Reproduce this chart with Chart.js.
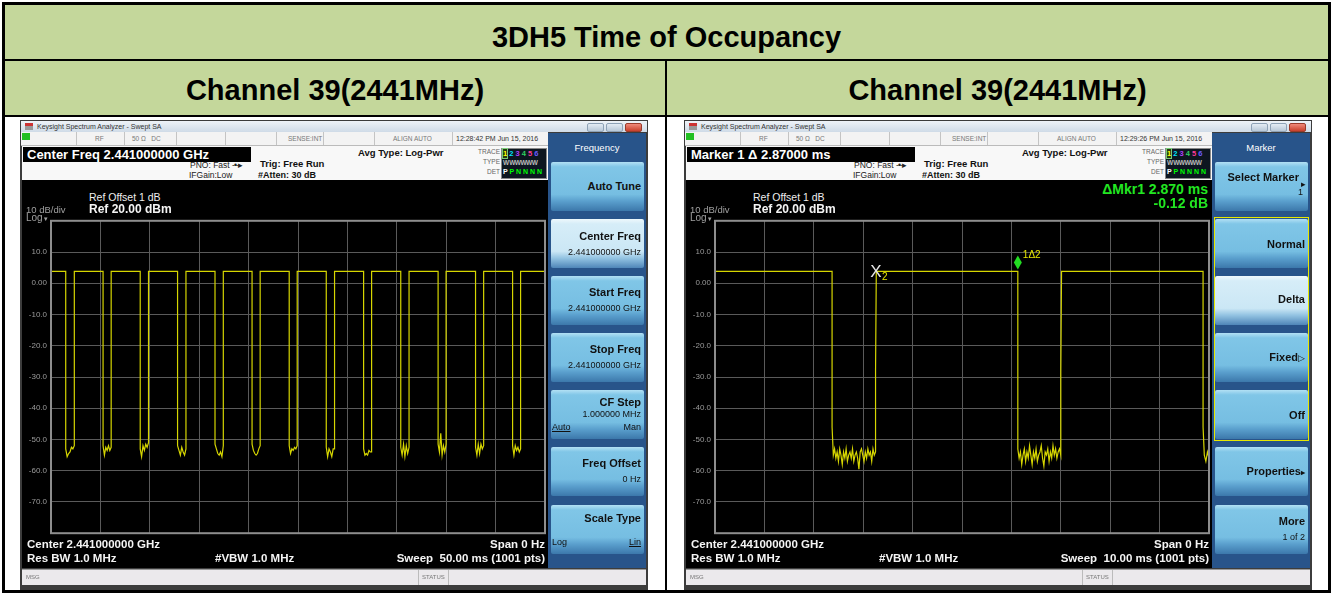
<!DOCTYPE html>
<html><head><meta charset="utf-8">
<script src="https://cdn.jsdelivr.net/npm/chart.js@4.4.0/dist/chart.umd.min.js"></script>
<style>
body{margin:0;width:1333px;height:595px;background:#fff;position:relative;overflow:hidden;font-family:"Liberation Sans",Arial,sans-serif;}
.a{position:absolute;white-space:nowrap}
.scr{position:absolute;width:628px;height:470px;top:120px;background:#3c3c3c;}
.tb{position:absolute;left:1px;top:1px;width:626px;height:11px;background:linear-gradient(#eef3f8,#cfdbe7);}
.st{position:absolute;left:1px;top:12px;width:527px;height:14px;background:#f3f3f3;border-bottom:1px solid #bbb;box-sizing:border-box}
.info{position:absolute;left:2px;top:26px;width:526px;height:34px;background:#f8f8f8;}
.screen{position:absolute;left:2px;top:60px;width:526px;height:388px;background:#000;}
.panel{position:absolute;left:528px;top:13px;width:98px;height:435px;background:#28548a;}
.msg{position:absolute;left:2px;top:449px;width:624px;height:16px;background:#ebe9ec;border-top:1px solid #999;box-sizing:border-box}
.btn{position:absolute;left:3px;width:93px;height:49px;border-radius:2px;background:linear-gradient(#b2e0f4 0%,#80c6e7 10%,#76bee2 66%,#5a9fcd 80%,#3c78ab 100%);}
.btn.sel{background:linear-gradient(#eef8fc 0%,#d6edf8 10%,#cbe7f5 66%,#93c3e2 80%,#4f86b8 100%);}
.wb{position:absolute;top:2px;width:17px;height:9px;border-radius:2px;background:linear-gradient(#e4ecf4,#b8c8d8);border:1px solid #8ea2b6;box-sizing:border-box}
.wb.cl{background:linear-gradient(#f08a7a,#c8402c);border-color:#9a3a2a}
.cell{position:absolute;top:0;width:1px;height:13px;background:#c4c4c4}
canvas{position:absolute;left:0;top:32px}
</style></head><body>
<div id="root"></div>
<script>
// ---------------- data ----------------
const titleText = "3DH5 Time of Occupancy";
const channelLabels = ["Channel 39(2441MHz)", "Channel 39(2441MHz)"];
const yTickValues = [10, 0, -10, -20, -30, -40, -50, -60, -70];
const yTickLabels = ["10.0", "0.00", "-10.0", "-20.0", "-30.0", "-40.0", "-50.0", "-60.0", "-70.0"];
const yMinDbm = -80, yMaxDbm = 20;

const leftSweepMs = 50;
const leftHighDbm = 3.8;
const leftFallMs = [1.49, 5.27, 9.03, 12.81, 16.60, 20.35, 24.11, 27.86, 31.64, 35.40, 39.18, 42.97, 46.72];
const leftRiseMs = [2.36, 6.09, 9.87, 13.66, 17.44, 21.17, 24.92, 28.70, 32.45, 36.24, 39.99, 43.79, 47.53];
const leftGapNoiseDbm = [
  [-53, -55.5, -54.5, -54, -52.5, -53, -52],
  [-52, -55, -52.5, -53.5, -52, -53.5, -52.5],
  [-53, -55.5, -52, -53.5, -51.5, -52.5, -51],
  [-52, -53.5, -55, -52.5, -54, -55, -53],
  [-51.5, -53, -54.5, -55, -54, -55.5, -52],
  [-51.5, -53.5, -54.5, -55, -54.5, -53, -52],
  [-52, -54.5, -53, -53.5, -52.5, -53, -52],
  [-52.5, -55.5, -53, -54, -55.5, -53, -53],
  [-53, -55, -54.5, -55, -53.5, -54, -54],
  [-52.5, -55, -51.5, -55.5, -52, -54.5, -52.5],
  [-51.5, -54, -48, -55, -52, -54, -51.5],
  [-52.5, -55, -51.5, -54.5, -51.5, -53, -52],
  [-52, -55, -52, -53.5, -52.5, -54, -53]
];

const rightSweepMs = 10;
const rightHighDbm = 3.8;
const rightFallMs = [2.37, 6.13, 9.88];
const rightRiseMs = [3.25, 7.00, null];
const rightFallKneeDbm = [-46, null, -46];
const rightRiseKneeDbm = [-28, -29, null];
const rightGapNoiseDbm = [
  [-55, -53, -56, -54, -57, -53, -55, -58, -54, -56, -53, -57, -55, -54, -56, -53, -57, -55, -54, -56, -59.5, -54, -53, -55, -57, -54, -56, -53, -55, -54, -57, -53, -55, -54],
  [-53, -56, -54, -58, -55, -53, -57, -54, -56, -52, -55, -58, -54, -56, -53, -57, -55, -54, -52, -56, -58.5, -54, -55, -53, -57, -54, -56, -52, -55, -53, -56, -54, -53, -55],
  [-55, -57, -54, -56]
];
const markerRefMs = 3.26;
const markerDeltaMs = 6.13;

// ---------------- layout helpers ----------------
const FONT = '"Liberation Sans", Arial, sans-serif';
function T(x, yc, txt, st) { return `<div class="a" style="left:${x}px;top:${yc-8}px;height:16px;line-height:16px;${st||''}">${txt}</div>`; }
function R(xr, yc, txt, st) { return `<div class="a" style="left:${xr-400}px;width:400px;text-align:right;top:${yc-8}px;height:16px;line-height:16px;${st||''}">${txt}</div>`; }

function screenHTML(cfg) {
  const cells = [55, 103, 155, 204, 255, 302, 353, 431].map(x => `<div class="cell" style="left:${x}px"></div>`).join('');
  const traceCols = ['#ffff00', '#00e5ff', '#b040ff', '#30d060', '#ff3a9a', '#6a5cff'];
  const nums = traceCols.map((c, i) => `<span style="color:${c};${i==0?'background:#2a3a10;outline:1px solid #7c7;':''}">${i+1}</span>`).join(' ');
  const dets = ['P','P','N','N','N','N'].map((c, i) => `<span style="color:${i==0?'#fff':'#00ff00'}">${c}</span>`).join(' ');
  let btns = '';
  const tops = [29, 86, 143, 200, 257, 314, 372];
  cfg.buttons.forEach((b, i) => {
    btns += `<div class="btn${b.sel?' sel':''}" style="top:${tops[i]}px">${b.html}</div>`;
  });
  return `
  <div class="scr" style="left:${cfg.x}px">
    <div class="tb">
      <div class="a" style="left:4px;top:2px;width:8px;height:7px;background:linear-gradient(#c33 0 40%,#999 40%)"></div>
      ${T(16, 5.5, 'Keysight Spectrum Analyzer - Swept SA', 'font-size:7px;color:#333')}
      <div class="wb" style="left:566px"></div><div class="wb" style="left:585px"></div><div class="wb cl" style="left:604px"></div>
    </div>
    <div class="st">
      <div class="a" style="left:1px;top:1px;width:8px;height:7px;background:#22c022"></div>
      ${cells}
      ${T(74, 6.5, 'RF', 'font-size:6.5px;color:#777')}
      ${T(111, 6.5, '50 Ω&nbsp;&nbsp;&nbsp;DC', 'font-size:6.5px;color:#777')}
      ${T(267, 6.5, 'SENSE:INT', 'font-size:6.5px;color:#777')}
      ${T(372, 6.5, 'ALIGN AUTO', 'font-size:6.5px;color:#777')}
      ${T(435, 6.5, cfg.time, 'font-size:7px;color:#333')}
    </div>
    <div class="info">
      <div class="a" style="left:1px;top:1px;width:228px;height:15px;background:#000"></div>
      ${T(5, 8.5, cfg.head, 'font-size:13px;font-weight:bold;color:#fff')}
      ${T(168, 18.5, 'PNO: Fast <span style="letter-spacing:-1px">-•-▸</span>', 'font-size:8.5px;color:#222')}
      ${T(167, 29, 'IFGain:Low', 'font-size:8.5px;color:#222')}
      ${T(238, 18, 'Trig: Free Run', 'font-size:9.5px;font-weight:bold;color:#111')}
      ${T(236, 28.5, '#Atten: 30 dB', 'font-size:9px;font-weight:bold;color:#111')}
      ${T(336, 7, 'Avg Type: Log-Pwr', 'font-size:9.5px;font-weight:bold;color:#111')}
      ${R(478, 6, 'TRACE', 'font-size:6.5px;color:#666')}
      ${R(478, 15.5, 'TYPE', 'font-size:6.5px;color:#666')}
      ${R(478, 25.5, 'DET', 'font-size:6.5px;color:#666')}
      <div class="a" style="left:479px;top:2px;width:46px;height:31px;background:#0d1620;border:1px solid #888;box-sizing:border-box"></div>
      ${T(481, 8, nums, 'font-size:7.5px;font-weight:bold')}
      ${T(481, 16.5, 'W<span style="letter-spacing:-0.5px">WWWWW</span>', 'font-size:6.5px;font-weight:bold;color:#bbb')}
      ${T(481, 25.5, dets, 'font-size:7px;font-weight:bold')}
    </div>
    <div class="screen">
      <canvas id="${cfg.id}" width="525" height="330"></canvas>
      ${T(67, 17, 'Ref Offset 1 dB', 'font-size:10.5px;color:#eee')}
      ${T(67, 29, 'Ref 20.00 dBm', 'font-size:12px;font-weight:bold;color:#f4f4f4')}
      ${T(4, 30, '10 dB/div', 'font-size:9.5px;color:#a0a0a0')}
      ${T(4, 38, 'Log<span style="font-size:6px">▼</span>', 'font-size:10px;color:#a0a0a0')}
      ${cfg.readout || ''}
      ${T(5, 364, 'Center 2.441000000 GHz', 'font-size:11.5px;font-weight:bold;color:#f4f4f4')}
      ${T(5, 378, 'Res BW 1.0 MHz', 'font-size:11.5px;font-weight:bold;color:#f4f4f4')}
      ${T(193, 378, '#VBW 1.0 MHz', 'font-size:11.5px;font-weight:bold;color:#f4f4f4')}
      ${R(523, 364, 'Span 0 Hz', 'font-size:11.5px;font-weight:bold;color:#f4f4f4')}
      ${R(523, 378, 'Sweep&nbsp;&nbsp;' + cfg.sweep, 'font-size:11.5px;font-weight:bold;color:#f4f4f4')}
    </div>
    <div class="panel">
      <div class="a" style="left:0;width:98px;text-align:center;top:7px;line-height:16px;font-size:9.5px;color:#fff">${cfg.menu}</div>
      ${btns}
      ${cfg.group || ''}
    </div>
    <div class="msg">
      ${T(4, 7, 'MSG', 'font-size:6px;color:#777')}
      <div class="a" style="left:396px;top:0;width:1px;height:15px;background:#bbb"></div>
      ${T(400, 7, 'STATUS', 'font-size:6px;color:#777')}
      <div class="a" style="left:426px;top:0;width:1px;height:15px;background:#bbb"></div>
    </div>
  </div>`;
}

const bt = (yc, t, extra) => R(90, yc, t, 'font-size:11px;font-weight:bold;color:#111;' + (extra||''));
const bv = (yc, t) => R(90, yc, t, 'font-size:9px;color:#111');

const leftCfg = {
  x: 20, id: 'cL', time: '12:28:42 PM Jun 15, 2016', head: 'Center Freq 2.441000000 GHz',
  menu: 'Frequency', sweep: '50.00 ms (1001 pts)',
  buttons: [
    {html: bt(24, 'Auto Tune')},
    {sel: true, html: bt(17, 'Center Freq') + bv(33, '2.441000000 GHz')},
    {html: bt(16, 'Start Freq') + bv(32, '2.441000000 GHz')},
    {html: bt(16, 'Stop Freq') + bv(32, '2.441000000 GHz')},
    {html: bt(12, 'CF Step') + bv(24, '1.000000 MHz') + bv(37, 'Man') + T(1, 37, '<u>Auto</u>', 'font-size:9px;color:#111')},
    {html: bt(16, 'Freq Offset') + bv(32, '0 Hz')},
    {html: bt(13, 'Scale Type') + bv(37, '<u>Lin</u>') + T(1, 37, 'Log', 'font-size:9px;color:#111')}
  ]
};
const rightCfg = {
  x: 684, id: 'cR', time: '12:29:26 PM Jun 15, 2016', head: 'Marker 1 Δ 2.87000 ms',
  menu: 'Marker', sweep: '10.00 ms (1001 pts)',
  readout: R(522, 9, 'ΔMkr1 2.870 ms', 'font-size:14px;font-weight:bold;color:#22e622') + R(522, 23, '-0.12 dB', 'font-size:14px;font-weight:bold;color:#22e622'),
  group: '<div class="a" style="left:2px;top:84px;width:95px;height:224px;border:1px solid #e8e800;box-sizing:border-box"></div>',
  buttons: [
    {html: R(84, 15, 'Select Marker', 'font-size:11px;font-weight:bold;color:#111') + R(91, 22, '▸', 'font-size:9px;color:#111') + R(88, 30, '1', 'font-size:9px;color:#111')},
    {html: bt(25, 'Normal')},
    {sel: true, html: bt(23, 'Delta')},
    {html: bt(24, 'Fixed<span style="font-weight:normal;font-size:9px">▷</span>')},
    {html: bt(25, 'Off')},
    {html: bt(24, 'Properties<span style="font-size:8px">▸</span>')},
    {html: bt(16, 'More') + bv(32, '1 of 2')}
  ]
};

document.getElementById('root').innerHTML = `
  <div class="a" style="left:2px;top:2px;width:1329px;height:57px;background:#c4d79b"></div>
  <div class="a" style="left:2px;top:61px;width:1329px;height:54px;background:#c4d79b"></div>
  <div class="a" style="left:2px;top:2px;width:1329px;height:591px;border:3px solid #000;box-sizing:border-box"></div>
  <div class="a" style="left:2px;top:59px;width:1329px;height:2px;background:#000"></div>
  <div class="a" style="left:2px;top:115px;width:1329px;height:2px;background:#000"></div>
  <div class="a" style="left:665px;top:59px;width:2px;height:534px;background:#000"></div>
  <div class="a" style="left:0;width:1333px;text-align:center;top:21px;line-height:32px;font-size:29px;font-weight:bold;color:#000">${titleText}</div>
  <div class="a" style="left:5px;width:660px;text-align:center;top:74px;line-height:32px;font-size:29px;font-weight:bold;color:#000">${channelLabels[0]}</div>
  <div class="a" style="left:667px;width:661px;text-align:center;top:74px;line-height:32px;font-size:29px;font-weight:bold;color:#000">${channelLabels[1]}</div>
  ${screenHTML(leftCfg)}
  ${screenHTML(rightCfg)}
`;

// ---------------- traces ----------------
function buildTrace(sweep, high, falls, rises, fallKnees, riseKnees, noises) {
  const pts = [{x: 0, y: high}];
  const d = sweep / 400;
  falls.forEach((f, i) => {
    const r = rises[i], n = noises[i];
    pts.push({x: f, y: high});
    let start = f;
    const fk = fallKnees ? fallKnees[i] : null;
    if (fk != null) { pts.push({x: f, y: fk}); start = f + d; }
    const end = r == null ? sweep : r;
    n.forEach((v, j) => pts.push({x: start + (end - start) * j / (n.length - 1), y: v}));
    if (r != null) {
      const rk = riseKnees ? riseKnees[i] : null;
      if (rk != null) { pts.push({x: r, y: rk}); pts.push({x: r + d * 0.6, y: high}); }
      else pts.push({x: r, y: high});
    }
  });
  if (rises[rises.length - 1] != null) pts.push({x: sweep, y: high});
  return pts;
}

const frame = {
  id: 'frame',
  afterDatasetsDraw(chart) {
    const {ctx, chartArea: a} = chart;
    ctx.save();
    ctx.strokeStyle = '#8e8e8e'; ctx.lineWidth = 2;
    ctx.strokeRect(a.left, a.top, a.right - a.left, a.bottom - a.top);
    ctx.restore();
  }
};

const markers = {
  id: 'markers',
  afterDatasetsDraw(chart) {
    const {ctx, scales: {x, y}} = chart;
    const px = x.getPixelForValue(markerRefMs), py = y.getPixelForValue(rightHighDbm);
    ctx.save();
    ctx.textBaseline = 'middle';
    ctx.font = '17px ' + FONT; ctx.fillStyle = '#e6e6e6'; ctx.textAlign = 'center';
    ctx.fillText('X', px, py + 1);
    ctx.font = '10px ' + FONT; ctx.fillStyle = '#e6e600'; ctx.textAlign = 'left';
    ctx.fillText('2', px + 6, py + 5.5);
    const dx = x.getPixelForValue(markerDeltaMs), dy = y.getPixelForValue(rightHighDbm);
    ctx.fillStyle = '#22dd22';
    ctx.beginPath();
    ctx.moveTo(dx, dy - 2); ctx.lineTo(dx + 4, dy - 9); ctx.lineTo(dx, dy - 16); ctx.lineTo(dx - 4, dy - 9); ctx.closePath();
    ctx.fill();
    ctx.font = '10px ' + FONT; ctx.fillStyle = '#e6e600';
    ctx.fillText('1Δ2', dx + 5, dy - 16);
    ctx.restore();
  }
};

function makeChart(id, sweep, pts, plugins) {
  return new Chart(document.getElementById(id), {
    type: 'line',
    data: {datasets: [{data: pts, borderColor: '#d6d600', borderWidth: 1.2, pointRadius: 0, tension: 0, fill: false}]},
    options: {
      responsive: false, animation: false, events: [],
      layout: {padding: {top: 5, right: 2, bottom: 5, left: 0}},
      plugins: {legend: {display: false}, tooltip: {enabled: false}, title: {display: false}},
      scales: {
        x: {type: 'linear', min: 0, max: sweep,
            ticks: {display: false, stepSize: sweep / 10},
            grid: {color: '#5a5a5a', lineWidth: 1, drawTicks: false},
            border: {display: false},
            afterFit(s) { s.height = 0; }},
        y: {min: yMinDbm, max: yMaxDbm,
            ticks: {stepSize: 10, color: '#9a9a9a', padding: 4, font: {size: 8, family: FONT},
                    callback(v) { const i = yTickValues.indexOf(v); return i >= 0 ? yTickLabels[i] : ''; }},
            grid: {color: '#5a5a5a', lineWidth: 1, drawTicks: false},
            border: {display: false},
            afterFit(s) { s.width = 29; }}
      }
    },
    plugins: plugins
  });
}

makeChart('cL', leftSweepMs,
  buildTrace(leftSweepMs, leftHighDbm, leftFallMs, leftRiseMs, null, null, leftGapNoiseDbm), [frame]);
makeChart('cR', rightSweepMs,
  buildTrace(rightSweepMs, rightHighDbm, rightFallMs, rightRiseMs, rightFallKneeDbm, rightRiseKneeDbm, rightGapNoiseDbm), [frame, markers]);
</script>
</body></html>
